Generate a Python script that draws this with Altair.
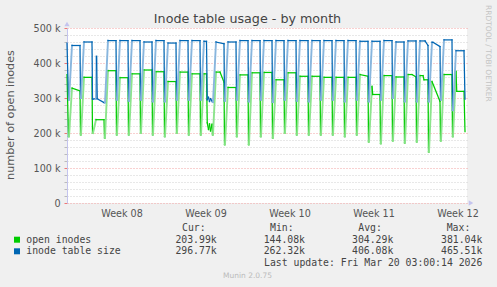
import altair as alt
import pandas as pd

# ---------------- axes (hours counted from 2026-02-15 00:00) ----------------
x_domain = [-2, 798]
day_ticks = list(range(0, 793, 24))
week_starts = [24, 192, 360, 528, 696]
week_label_hours = [108, 276, 444, 612, 780]
week_labels = ["Week 08", "Week 09", "Week 10", "Week 11", "Week 12"]
y_domain = [0, 500000]
y_ticks = list(range(0, 500001, 20000))

# ---------------- series values (thousands), one entry per day ----------------
green_first = 367
green_trough = [190, 195, 200, 186, 195, 195, 200, 195, 190, 200, 195, 195, 195, 167, 190, 167, 190,
                186, 200, 195, 195, 195, 195, 190, 195, 175, 170, 178, 172, 175, 146, 178, 190, 204]
green_plateau_start = [328, 359, 238, 378, 358, 369, 380, 375, 347, 374, 369, 369, 374, 330, 366, 372, 373,
                       352, 372, 362, 362, 359, 359, 359, 367, 333, 364, 360, 367, 364, 347, 367, 376]
green_plateau_end = [320, 359, 238, 378, 358, 369, 380, 375, 347, 374, 369, 225, 345, 330, 366, 372, 373,
                     352, 372, 362, 362, 359, 359, 359, 362, 310, 364, 360, 360, 352, 290, 367, 319]
green_extra = {
    11: [(13, 369), (14.5, 229), (17, 210), (19, 226), (21, 206)],
    12: [(16, 374)],
    25: [(9.5, 310)],
    28: [(16, 367)],
    29: [(14, 364), (16, 352)],
    32: [(9.5, 319)],
}

blue_first = 457
blue_trough = [295, 300, 297, 287, 295, 292, 295, 290, 290, 295, 295, 295, 288, 292, 295, 290, 295,
               288, 295, 292, 290, 295, 295, 290, 295, 290, 295, 300, 290, 290, 290, 295, 265, 297]
blue_plateau_start = [450, 460, 298, 464, 464, 464, 460, 464, 457, 464, 464, 462, 460, 460, 464, 464, 464,
                      464, 464, 464, 464, 464, 464, 464, 462, 462, 464, 460, 463, 463, 459, 466, 435]
blue_plateau_end = [450, 460, 287, 464, 464, 464, 460, 464, 457, 464, 464, 292, 455, 460, 464, 464, 464,
                    464, 464, 464, 464, 464, 464, 464, 462, 462, 464, 460, 463, 450, 447, 466, 435]
blue_extra = {
    2: [(9, 419), (10.5, 298)],
    11: [(13, 462), (14.5, 295), (17, 302), (19, 290), (21, 298)],
    29: [(18, 463)],
    30: [(10, 459)],
}

# ---------------- legend texts ----------------
series_names = ["open inodes", "inode table size"]
series_colors = ["#00CC00", "#0066B3"]
series_light = ["#8CE48C", "#88B6DE"]
stat_headers = ["Cur:", "Min:", "Avg:", "Max:"]
stat_values = [["203.99k", "144.08k", "304.29k", "381.04k"],
               ["296.77k", "262.32k", "406.08k", "465.51k"]]
title_text = "Inode table usage - by month"
y_title = "number of open inodes"
last_update = "Last update: Fri Mar 20 03:00:14 2026"
footer = "Munin 2.0.75"
side_text = "RRDTOOL / TOBI OETIKER"


def points(first, trough, p_start, p_end, extra):
    hours, vals = [-2], [first]
    for k in range(len(p_start)):
        h = 24 * k
        pts = [(h + 1, trough[k]), (h + 2, trough[k]), (h + 8, p_start[k])]
        pts += [(h + eh, ev) for eh, ev in extra.get(k, [])]
        pts.append((h + 24, p_end[k]))
        for a, b in pts:
            hours.append(a)
            vals.append(b)
    hours.append(24 * len(p_start) + 2)
    vals.append(trough[-1])
    return hours, vals


def segments(hours, vals):
    rows = []
    for i in range(len(hours) - 1):
        rows.append({"x": hours[i], "x2": hours[i + 1],
                     "y": vals[i] * 1000, "y2": vals[i + 1] * 1000,
                     "rise": 1 if vals[i + 1] - vals[i] > 30 else 0})
    return pd.DataFrame(rows)


green_df = segments(*points(green_first, green_trough, green_plateau_start, green_plateau_end, green_extra))
blue_df = segments(*points(blue_first, blue_trough, blue_plateau_start, blue_plateau_end, blue_extra))

major = "#F2A3A3"
minor = "#D0D0D0"
axis_col = "#C4C4EE"
ws = ",".join(str(w) for w in week_starts)

x_axis = alt.Axis(values=day_ticks, labels=False, title=None, grid=True,
                  gridColor={"condition": {"test": f"indexof([{ws}], datum.value) >= 0", "value": major}, "value": minor},
                  gridDash=[1, 2], gridWidth=1,
                  tickColor={"condition": {"test": f"indexof([{ws}], datum.value) >= 0", "value": "#EE7777"}, "value": "#BBBBBB"},
                  tickSize=2, domainColor=axis_col)
y_axis = alt.Axis(values=y_ticks, title=None, grid=True,
                  labelExpr="datum.value % 100000 == 0 ? (datum.value == 0 ? '0' : format(datum.value / 1000, 'd') + ' k') : ''",
                  gridColor={"condition": {"test": "datum.value % 100000 == 0", "value": major}, "value": minor},
                  gridDash=[1, 2], gridWidth=1,
                  tickColor={"condition": {"test": "datum.value % 100000 == 0", "value": "#EE7777"}, "value": "#BBBBBB"},
                  tickSize=3, labelPadding=4, labelFont="DejaVu Sans", labelFontSize=9.6,
                  labelColor="#555555", domainColor=axis_col, labelOverlap=False)

xs = alt.Scale(domain=x_domain, nice=False, zero=False)
ys = alt.Scale(domain=y_domain, nice=False)


def series_layer(df, dark, light):
    return alt.Chart(df).mark_rule(strokeCap="square").encode(
        x=alt.X("x:Q", scale=xs, axis=x_axis), x2="x2:Q",
        y=alt.Y("y:Q", scale=ys, axis=y_axis), y2="y2:Q",
        color=alt.condition(alt.datum.rise == 1, alt.value(light), alt.value(dark)),
        strokeWidth=alt.condition(alt.datum.rise == 1, alt.value(1.9), alt.value(1.25)),
    )


layers = [series_layer(green_df, series_colors[0], series_light[0]),
          series_layer(blue_df, series_colors[1], series_light[1])]

weeks_df = pd.DataFrame({"h": week_label_hours, "label": week_labels})
layers.append(alt.Chart(weeks_df).mark_text(font="DejaVu Sans", fontSize=9.6, color="#555555",
                                            align="center", baseline="alphabetic").encode(
    x=alt.X("h:Q", scale=xs, axis=None), y=alt.value(188.5), text="label:N"))


def label(text, x, y, font="DejaVu Sans", size=9.8, color="#444444", align="left", baseline="alphabetic", angle=0):
    return alt.Chart(pd.DataFrame({"t": [text]})).mark_text(
        font=font, fontSize=size, color=color, align=align, baseline=baseline, angle=angle).encode(
        x=alt.value(x), y=alt.value(y), text="t:N")


mono = "DejaVu Sans Mono"
layers.append(label(title_text, 180.5, -5.4, size=12.7, color="#444444", align="center"))
layers.append(label(y_title, -53.5, 87, size=11.2, color="#555555", align="center", angle=270))
layers.append(label(side_text, 420.5, 25.3, size=7.5, color="#C4C4C4", align="center", baseline="middle", angle=90))
layers.append(label(footer, 180.5, 250, size=7.5, color="#BBBBBB", align="center"))

header_x = [115, 203, 291.3, 379.7]
value_right = [149.7, 238, 326.3, 415.3]
row_y = [214.7, 226.3]
for i, h in enumerate(stat_headers):
    layers.append(label(h, header_x[i], 203, font=mono))
for r in range(2):
    layers.append(alt.Chart(pd.DataFrame({"c": [series_colors[r]]})).mark_rect(color=series_colors[r]).encode(
        x=alt.value(-53), x2=alt.value(-47), y=alt.value(row_y[r] - 6), y2=alt.value(row_y[r])))
    layers.append(label(series_names[r], -40.7, row_y[r], font=mono))
    for i in range(4):
        layers.append(label(stat_values[r][i], value_right[i], row_y[r], font=mono, align="right"))
layers.append(label(last_update, 415.3, 238, font=mono, align="right"))

# axis arrows
layers.append(alt.Chart(pd.DataFrame({"a": [0]})).mark_point(shape="triangle-up", filled=True, size=28,
                                                             color=axis_col, opacity=1).encode(
    x=alt.value(0), y=alt.value(-4)))
layers.append(alt.Chart(pd.DataFrame({"a": [0]})).mark_point(shape="triangle-right", filled=True, size=28,
                                                             color=axis_col, opacity=1).encode(
    x=alt.value(404), y=alt.value(175)))

chart = alt.layer(*layers).properties(
    width=400, height=175,
    padding={"left": 67, "top": 28, "right": 30, "bottom": 84},
    autosize=alt.AutoSizeParams(type="none"),
).configure(background="#F0F0F0").configure_view(fill="white", stroke=None)

chart.save("out.html", embed_options={"renderer": "svg", "actions": False})
